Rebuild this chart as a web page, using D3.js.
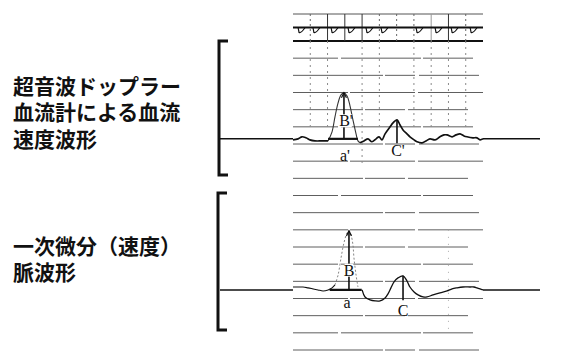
<!DOCTYPE html>
<html>
<head>
<meta charset="utf-8">
<script src="https://cdn.jsdelivr.net/npm/d3@7"></script>
<style>
  html, body { margin: 0; padding: 0; background: #fff; }
  svg { display: block; }
</style>
</head>
<body>
<svg id="chart" width="566" height="354"></svg>
<script>
// ---- recording values (time in grid divisions, amplitude in grid divisions) ----

// Doppler blood-flow velocity trace: baseline segments and the systolic peak
const dopplerLead = [
  [0.00, -0.06], [0.29, 0.00], [0.52, 0.12], [0.75, 0.06], [0.98, -0.06],
  [1.27, -0.12], [1.68, -0.12], [2.03, -0.12]
];
const dopplerPeak = [
  [2.03, -0.12], [2.26, 0.41], [2.43, 1.28], [2.61, 2.10], [2.78, 2.56],
  [2.95, 2.68], [3.13, 2.50], [3.30, 1.92], [3.47, 1.11], [3.65, 0.29],
  [3.76, -0.12], [3.88, -0.23]
];
const dopplerTail = [
  [3.88, -0.23], [4.11, -0.12], [4.34, 0.00], [4.57, -0.17], [4.81, 0.00],
  [4.98, 0.12], [5.15, -0.06], [5.33, 0.29], [5.62, 0.70], [5.79, 0.93],
  [6.02, 1.11], [6.19, 0.82], [6.37, 0.52], [6.60, 0.29], [6.77, 0.12],
  [7.01, -0.06], [7.18, -0.17], [7.47, -0.23], [7.70, -0.12], [7.93, 0.00],
  [8.22, -0.06], [8.51, 0.12], [8.74, 0.23], [8.92, 0.23], [9.21, 0.12],
  [9.44, 0.23], [9.67, 0.29], [9.90, 0.17], [10.07, 0.12], [10.42, 0.06],
  [10.65, 0.06], [10.83, -0.06], [11.00, 0.00]
];

// First-derivative (velocity) pulse wave
const derivLead = [
  [0.00, 0.17], [0.29, 0.17], [0.58, 0.17], [0.87, 0.12], [1.16, 0.06],
  [1.45, 0.00], [1.74, -0.06], [2.03, 0.00], [2.26, 0.12], [2.43, 0.29]
];
const derivPeak = [
  [2.43, 0.29], [2.61, 0.87], [2.78, 1.86], [2.95, 2.74], [3.13, 3.32],
  [3.24, 3.44], [3.36, 3.20], [3.47, 2.62], [3.53, 1.86], [3.65, 0.87],
  [3.76, 0.17]
];
const derivTail = [
  [4.00, 0.00], [4.17, -0.41], [4.46, -0.58], [4.75, -0.64], [5.04, -0.64],
  [5.33, -0.47], [5.50, -0.23], [5.67, 0.12], [5.85, 0.47], [6.08, 0.70],
  [6.37, 0.82], [6.60, 0.52], [6.77, 0.17], [7.01, -0.12], [7.24, -0.29],
  [7.53, -0.41], [7.76, -0.41], [8.11, -0.29], [8.51, -0.17], [8.92, -0.06],
  [9.21, 0.06], [9.49, 0.12], [9.84, 0.17], [10.25, 0.17], [10.48, 0.17],
  [10.65, 0.12], [10.83, 0.06], [11.00, 0.00]
];

// Measured points: [time, amplitude]
const dopplerB = { t: 2.95, amp: 2.68, baseFrom: 2.03, baseTo: 3.76 };
const dopplerC = { t: 6.02, amp: 1.11, low: -0.26 };
const derivB = { t: 3.24, amp: 3.44, baseFrom: 2.12, baseTo: 3.98 };
const derivC = { t: 6.37, amp: 0.82, low: -0.60 };

// ECG timing strip: beat times (grid divisions)
const ecgBeats = [0.41, 1.27, 2.32, 3.30, 4.34, 5.21, 7.24, 8.34, 9.27, 10.37];

// Chart paper
const gridRows = d3.range(0, 19);          // horizontal rulings
const stripSolidCols = [2, 3, 4, 8, 9];
const stripDottedCols = [1, 5, 6, 7, 10];
const upperDottedCols = [1, 2, 4, 5, 7, 8, 9, 10];

// Panel labels
const upperLabel = ["超音波ドップラー", "血流計による血流", "速度波形"];
const lowerLabel = ["一次微分（速度）", "脈波形"];
const markNames = { upperB: "B'", upperA: "a'", upperC: "C'", lowerB: "B", lowerA: "a", lowerC: "C" };

// ---- scales ----
const x = d3.scaleLinear().domain([0, 11]).range([293, 483]);
const gridY = d3.scaleLinear().domain([0, 18]).range([41, 350]);
const stripY = d3.scaleLinear().domain([0, 2]).range([14, 41]);
const upperBaseRow = 5.7, lowerBaseRow = 14.5;
const yUp = a => gridY(upperBaseRow - a);
const yLo = a => gridY(lowerBaseRow - a);

const svg = d3.select("#chart");

// ---- chart paper ----
const paper = svg.append("g");
const dashes = ["70,2,40,3,60", "45,3,80,2,50", "90,2,30,4,60", "55,2,65,3,70"];
paper.selectAll("line.row").data(gridRows).join("line")
  .attr("x1", x(0)).attr("x2", x(11))
  .attr("y1", d => gridY(d)).attr("y2", d => gridY(d))
  .attr("stroke", d => d === 0 ? "#111" : "#5e5e5e")
  .attr("stroke-width", d => d === 0 ? 1.8 : 1)
  .attr("stroke-dasharray", (d, i) => d === 0 ? null : dashes[i % dashes.length]);

// vertical rulings across the upper panel (dotted)
paper.selectAll("line.ucol").data(upperDottedCols).join("line")
  .attr("x1", d => x(d)).attr("x2", d => x(d))
  .attr("y1", gridY(0)).attr("y2", d => d === 4 ? gridY(7.2) : gridY(5.2))
  .attr("stroke", "#8a8a8a").attr("stroke-width", 1)
  .attr("stroke-dasharray", "2,4");

// faint vertical ruling through the lower panel
paper.append("line")
  .attr("x1", x(9)).attr("x2", x(9))
  .attr("y1", gridY(11)).attr("y2", gridY(17))
  .attr("stroke", "#aaa").attr("stroke-width", 1).attr("stroke-dasharray", "1,6");

// ---- ECG timing strip ----
const strip = svg.append("g");
strip.append("line")
  .attr("x1", x(0)).attr("x2", x(11)).attr("y1", stripY(0)).attr("y2", stripY(0))
  .attr("stroke", "#555").attr("stroke-width", 1);
strip.selectAll("line.ss").data(stripSolidCols).join("line")
  .attr("x1", d => x(d)).attr("x2", d => x(d))
  .attr("y1", stripY(0)).attr("y2", stripY(2))
  .attr("stroke", d => d === 8 ? "#999" : "#333").attr("stroke-width", 1);
strip.selectAll("line.sd").data(stripDottedCols).join("line")
  .attr("x1", d => x(d)).attr("x2", d => x(d))
  .attr("y1", stripY(0)).attr("y2", stripY(2))
  .attr("stroke", "#666").attr("stroke-width", 1).attr("stroke-dasharray", "2,3");
strip.append("line")
  .attr("x1", x(0)).attr("x2", x(11)).attr("y1", stripY(1)).attr("y2", stripY(1))
  .attr("stroke", "#111").attr("stroke-width", 2);
strip.selectAll("path.beat").data(ecgBeats).join("path")
  .attr("d", t => {
    const cx = x(t), y0 = stripY(1);
    return `M${cx - 2},${y0} L${cx - 1},${y0 + 5} Q${cx + 1},${y0 + 6} ${cx + 5},${y0}`;
  })
  .attr("fill", "none").attr("stroke", "#111").attr("stroke-width", 1.2);

// ---- traces ----
const lineUp = d3.line().x(d => x(d[0])).y(d => yUp(d[1])).curve(d3.curveCatmullRom);
const lineLo = d3.line().x(d => x(d[0])).y(d => yLo(d[1])).curve(d3.curveCatmullRom);

// flat recording line beyond the paper
[yUp(0), yLo(0)].forEach(yy => {
  svg.append("line").attr("x1", 220).attr("x2", x(0)).attr("y1", yy).attr("y2", yy)
    .attr("stroke", "#111").attr("stroke-width", 1.5);
  svg.append("line").attr("x1", x(11)).attr("x2", 540).attr("y1", yy).attr("y2", yy)
    .attr("stroke", "#111").attr("stroke-width", 1.5);
});

const traces = svg.append("g").attr("fill", "none").attr("stroke", "#111");
traces.append("path").attr("d", lineUp(dopplerLead)).attr("stroke-width", 1.7);
traces.append("path").attr("d", lineUp(dopplerPeak)).attr("stroke-width", 1.1).attr("stroke", "#333");
traces.append("path").attr("d", lineUp(dopplerTail)).attr("stroke-width", 1.7);

traces.append("path").attr("d", lineLo(derivLead)).attr("stroke-width", 1.1);
traces.append("path").attr("d", lineLo(derivPeak)).attr("stroke-width", 0.9)
  .attr("stroke", "#777").attr("stroke-dasharray", "2,2");
traces.append("path").attr("d", lineLo(derivTail)).attr("stroke-width", 1.3);

// ---- measurement markers ----
const marks = svg.append("g").attr("stroke", "#111").attr("fill", "none");

function arrowUp(g, cx, yTop) {
  g.append("path")
    .attr("d", `M${cx - 2.5},${yTop + 5} L${cx},${yTop} L${cx + 2.5},${yTop + 5}`)
    .attr("stroke-width", 1.2);
}

// upper panel: B' and a' baseline
marks.append("line").attr("x1", x(dopplerB.baseFrom)).attr("x2", x(dopplerB.baseTo))
  .attr("y1", yUp(0)).attr("y2", yUp(0)).attr("stroke-width", 2.2);
marks.append("line").attr("x1", x(dopplerB.t)).attr("x2", x(dopplerB.t))
  .attr("y1", yUp(0)).attr("y2", yUp(dopplerB.amp)).attr("stroke-width", 1.6);
arrowUp(marks, x(dopplerB.t), yUp(dopplerB.amp));
marks.append("line").attr("x1", x(dopplerC.t)).attr("x2", x(dopplerC.t))
  .attr("y1", yUp(dopplerC.amp)).attr("y2", yUp(dopplerC.low)).attr("stroke-width", 1.6);

// lower panel: B and a baseline
marks.append("line").attr("x1", x(derivB.baseFrom)).attr("x2", x(derivB.baseTo))
  .attr("y1", yLo(0)).attr("y2", yLo(0)).attr("stroke-width", 2.2);
marks.append("line").attr("x1", x(derivB.t)).attr("x2", x(derivB.t))
  .attr("y1", yLo(0)).attr("y2", yLo(derivB.amp)).attr("stroke-width", 1.6);
arrowUp(marks, x(derivB.t), yLo(derivB.amp));
marks.append("line").attr("x1", x(derivC.t)).attr("x2", x(derivC.t))
  .attr("y1", yLo(derivC.amp)).attr("y2", yLo(derivC.low)).attr("stroke-width", 1.6);

// marker letters
function letter(txt, cx, cy, knockout) {
  const g = svg.append("g");
  const t = g.append("text")
    .attr("x", cx).attr("y", cy)
    .attr("text-anchor", "middle").attr("dominant-baseline", "central")
    .attr("font-family", "'Liberation Serif', 'DejaVu Serif', serif")
    .attr("font-size", 16).attr("fill", "#111").text(txt);
  if (knockout) {
    const b = t.node().getBBox();
    g.insert("rect", "text").attr("x", b.x + 1).attr("y", b.y + 2)
      .attr("width", b.width - 2).attr("height", b.height - 4).attr("fill", "#fff");
  }
}
letter(markNames.upperB, x(dopplerB.t) + 2, yUp(1.05), true);
letter(markNames.upperA, x(dopplerB.t) + 1, yUp(-0.95), false);
letter(markNames.upperC, x(dopplerC.t) + 1, yUp(-0.7), false);
letter(markNames.lowerB, x(derivB.t), yLo(1.15), true);
letter(markNames.lowerA, x(derivB.t) - 2, yLo(-0.75), false);
letter(markNames.lowerC, x(derivC.t), yLo(-1.2), false);

// ---- brackets ----
function bracket(xb, yTop, yBot) {
  svg.append("path")
    .attr("d", `M${xb + 9},${yTop} L${xb},${yTop} L${xb},${yBot} L${xb + 9},${yBot}`)
    .attr("fill", "none").attr("stroke", "#111").attr("stroke-width", 3);
}
bracket(219, 41, 175);
bracket(218, 193, 330);

// ---- panel labels (Japanese glyphs come from Noto Sans CJK JP) ----
function label(lines, y0, pitch) {
  svg.append("g").selectAll("text").data(lines).join("text")
    .attr("x", 13).attr("y", (d, i) => y0 + i * pitch)
    .attr("dominant-baseline", "central")
    .attr("font-family", "'Liberation Sans', 'Noto Sans CJK JP', sans-serif")
    .attr("font-size", 21).attr("font-weight", "bold")
    .attr("fill", "#111").text(d => d);
}
label(upperLabel, 86, 26.5);
label(lowerLabel, 246, 26);
</script>
</body>
</html>
